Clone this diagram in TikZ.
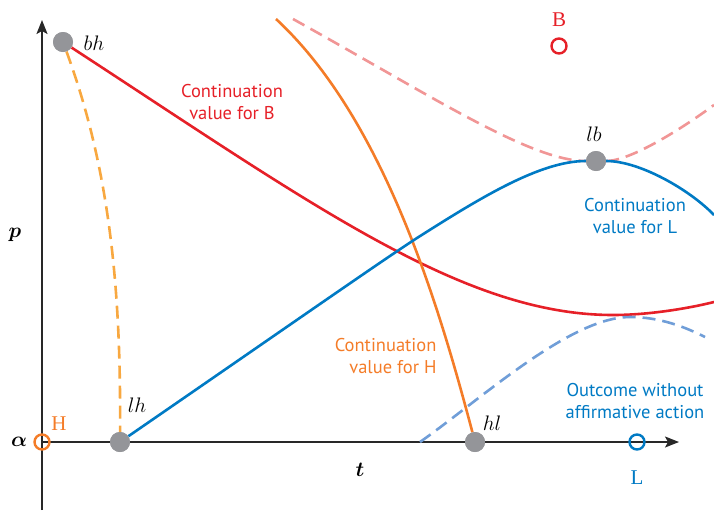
\RequirePackage{fix-cm}
\documentclass[tikz,border=0pt]{standalone}
\usepackage{amsmath}
\usepackage{fontspec}
\setsansfont{PT Sans}
\newfontfamily\outfont{Liberation Serif}
\usetikzlibrary{arrows.meta}
\definecolor{redB}{RGB}{230,32,40}
\definecolor{pinkB}{RGB}{241,150,150}
\definecolor{orangeH}{RGB}{244,124,40}
\definecolor{lightH}{RGB}{248,168,64}
\definecolor{blueL}{RGB}{0,122,196}
\definecolor{lightL}{RGB}{112,158,216}
\definecolor{dotgray}{RGB}{148,149,153}
\definecolor{axisgray}{RGB}{40,40,40}
\begin{document}
\begin{tikzpicture}[x=1pt,y=-1pt,
    dot/.style={circle,fill=dotgray,inner sep=0pt,minimum size=20pt},
    ring/.style={circle,draw,line width=2.4pt,inner sep=0pt,minimum size=15pt},
    curve/.style={line width=2.6pt},
    dcurve/.style={line width=2.6pt,dash pattern=on 13pt off 7pt},
    txt/.style={font=\sffamily\fontsize{18.5}{22}\selectfont,align=center},
    mlab/.style={font=\fontsize{21}{24}\selectfont,inner sep=0pt},
    olab/.style={font=\outfont\fontsize{21}{24}\selectfont,inner sep=0pt},
    axis/.style={axisgray,line width=1.4pt,-{Stealth[length=14pt,width=11pt,inset=3pt]}}]
    \useasboundingbox (0,0) rectangle (714,512);

    % Axes
    \draw[axis] (42,510) -- (42,20);
    \draw[axis] (42,442) -- (679,442);
    \node[mlab] (alpha) at (19,442) {$\boldsymbol{\alpha}$};
    \node[mlab] (plab) at (15,235) {$\boldsymbol{p}$};
    \node[mlab] (tlab) at (360,470) {$\boldsymbol{t}$};

    % Points
    \node[dot] (bh) at (63,42) {};
    \node[dot] (lh) at (120,442) {};
    \node[dot] (hl) at (475,442) {};
    \node[dot] (lb) at (596,161) {};
    \node[mlab] (bhlab) at (94,43) {$bh$};
    \node[mlab] (lhlab) at (137,405) {$lh$};
    \node[mlab] (hllab) at (492,423) {$hl$};
    \node[mlab] (lblab) at (594,134) {$lb$};

    % Free ends of the curves
    \coordinate (Htop) at (276,19);
    \coordinate (Btop) at (293,19);
    \coordinate (Bend) at (714,105);
    \coordinate (Cend) at (714,302);
    \coordinate (Lend) at (714,215);
    \coordinate (Ostart) at (420,442);
    \coordinate (Otop) at (630,317);
    \coordinate (Oend) at (705,337);

    % Continuation value for B
    \draw[curve,redB] (bh) .. controls (313,205) and (463,315) .. (613,315)
        .. controls (650,315) and (690,308) .. (Cend);
    \draw[dcurve,pinkB] (Btop) .. controls (430,95) and (530,161) .. (lb);
    \draw[dcurve,pinkB] (lb) .. controls (630,161) and (680,130) .. (Bend);

    % Continuation value for H
    \draw[curve,orangeH] (Htop) .. controls (385,120) and (440,310) .. (hl);
    \draw[dcurve,lightH] (bh) .. controls (110,170) and (121,290) .. (lh);

    % Continuation value for L
    \draw[curve,blueL] (lh) .. controls (300,318) and (380,262) .. (417,238)
        .. controls (480,198) and (540,161) .. (lb);
    \draw[curve,blueL] (lb) .. controls (640,161) and (690,190) .. (Lend);

    % Outcome without affirmative action
    \draw[dcurve,lightL] (Ostart) .. controls (480,400) and (570,317) .. (Otop)
        .. controls (660,317) and (685,327) .. (Oend);

    % Dots on top
    \foreach \p in {bh,lh,hl,lb} \node[dot] at (\p) {};

    % Outcomes
    \node[ring,orangeH] (H) at (42,442) {};
    \node[ring,redB] (B) at (559,46) {};
    \node[ring,blueL] (L) at (637,442) {};
    \node[olab,orangeH] (Hlab) at (59,424) {H};
    \node[olab,redB] (Blab) at (559,20) {B};
    \node[olab,blueL] (Llab) at (637,478) {L};

    % Labels
    \node[txt,redB] (cvB) at (232,102) {Continuation\\value for B};
    \node[txt,blueL] (cvL) at (635,216) {Continuation\\value for L};
    \node[txt,orangeH,align=right,anchor=east] (cvH) at (440,356) {Continuation\\value for H};
    \node[txt,blueL] (noaa) at (635,401) {Outcome without\\affirmative action};
\end{tikzpicture}
\end{document}
